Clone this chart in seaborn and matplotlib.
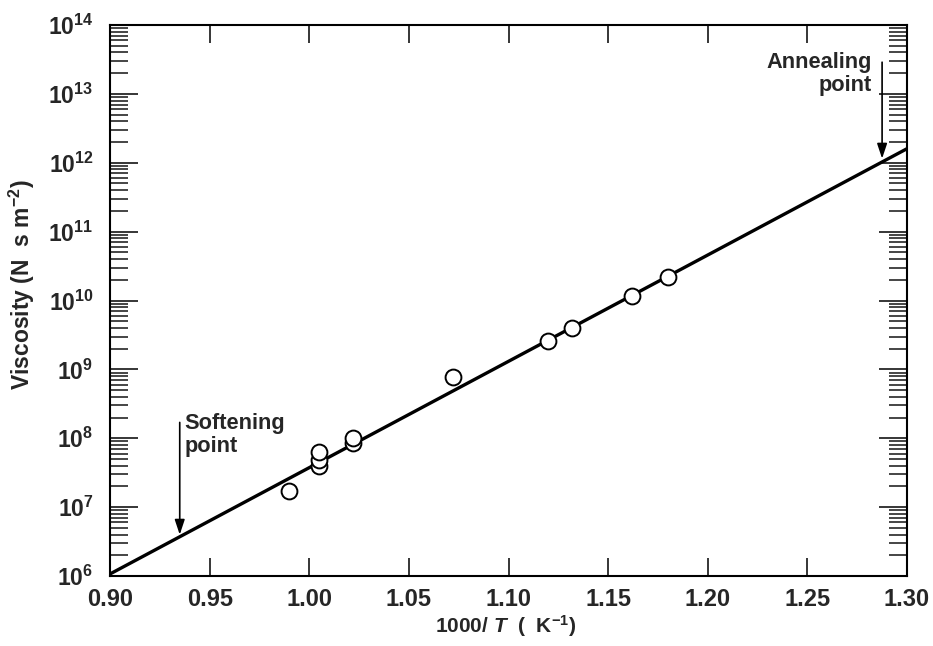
import numpy as np
import pandas as pd
import matplotlib
matplotlib.use("Agg")
import matplotlib.pyplot as plt
import matplotlib.ticker as mticker
import seaborn as sns

# Data
inv_T = [0.990, 1.005, 1.005, 1.005, 1.022, 1.022, 1.072, 1.120, 1.132, 1.162, 1.180]
viscosity = [1.7e7, 3.9e7, 4.8e7, 6.3e7, 8.5e7, 1.0e8, 7.7e8, 2.6e9, 4.0e9, 1.15e10, 2.2e10]
fit_x = [0.90, 1.30]
fit_y = [1.07e6, 1.6e12]
x_ticks = [0.90, 0.95, 1.00, 1.05, 1.10, 1.15, 1.20, 1.25, 1.30]
y_exponents = list(range(6, 15))

sns.set_style("ticks")
plt.rcParams["font.family"] = ["Liberation Sans", "DejaVu Sans"]
plt.rcParams["mathtext.fontset"] = "custom"
plt.rcParams["mathtext.rm"] = "Liberation Sans:bold"
plt.rcParams["mathtext.bf"] = "Liberation Sans:bold"
plt.rcParams["mathtext.it"] = "Liberation Sans:bold:italic"

fig = plt.figure(figsize=(9.33, 6.46), dpi=100)
ax = fig.add_axes([110/933, 1-576/646, 797/933, 551/646])

df_pts = pd.DataFrame({"x": inv_T, "y": viscosity})
df_fit = pd.DataFrame({"x": fit_x, "y": fit_y})

sns.lineplot(data=df_fit, x="x", y="y", ax=ax, color="black", lw=2.4, zorder=2)
sns.scatterplot(data=df_pts, x="x", y="y", ax=ax, s=130, facecolor="white",
                edgecolor="black", linewidth=1.4, zorder=3)

ax.set_yscale("log")
ax.set_xlim(0.90, 1.30)
ax.set_ylim(1e6, 1e14)
ax.set_xticks(x_ticks)
ax.set_xticklabels([f"{v:.2f}" for v in x_ticks], fontsize=17, fontweight="bold")
ax.set_yticks([10.0**e for e in y_exponents])
ax.set_yticklabels([f"$\\mathbf{{10^{{{e}}}}}$" for e in y_exponents], fontsize=16.5)
ax.yaxis.set_minor_locator(mticker.LogLocator(base=10, subs=np.arange(2, 10), numticks=20))
ax.yaxis.set_minor_formatter(mticker.NullFormatter())

ax.tick_params(axis="both", which="major", direction="in", top=True, right=True,
               length=13, width=1.3, pad=9)
ax.tick_params(axis="y", which="major", length=20, pad=12)
ax.tick_params(axis="y", which="minor", direction="in", left=True, right=True,
               length=13, width=1.2)
ax.tick_params(axis="x", which="minor", bottom=False, top=False)
for sp in ax.spines.values():
    sp.set_linewidth(1.5)
    sp.set_color("black")

ax.set_xlabel("1000/ $T$  (  K$^{-1}$)", fontsize=15, fontweight="bold")
ax.set_ylabel("Viscosity (N  s m$^{-2}$)", fontsize=16.5, fontweight="bold")
ax.yaxis.set_label_coords(-0.092, 0.528)
ax.xaxis.set_label_coords(0.497, -0.067)

arrow = dict(arrowstyle="-|>,head_length=0.9,head_width=0.3", color="black", lw=1.2,
             shrinkA=0, shrinkB=0)
ax.annotate("", xy=(0.935, 10**6.60), xytext=(0.935, 10**8.23), arrowprops=arrow)
ax.text(0.9375, 10**8.05, "Softening\npoint", fontsize=15.7, fontweight="bold",
        ha="left", va="center", linespacing=1.1)
ax.annotate("", xy=(1.2875, 10**12.06), xytext=(1.2875, 10**13.46), arrowprops=arrow)
ax.text(1.2825, 10**13.29, "Annealing\npoint", fontsize=15.7, fontweight="bold",
        ha="right", va="center", linespacing=1.1, multialignment="right")

ax.set_facecolor("white")
fig.patch.set_facecolor("white")
fig.savefig("out.png", dpi=100)
